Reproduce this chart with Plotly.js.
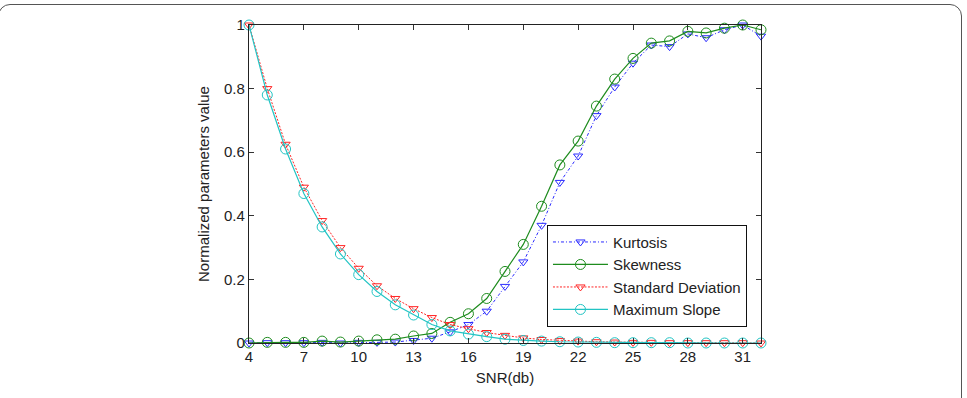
<!DOCTYPE html>
<html>
<head>
<meta charset="utf-8">
<script src="https://cdn.plot.ly/plotly-3.0.1.min.js"></script>
<style>
  html, body { margin: 0; padding: 0; background: #fff; overflow: hidden; }
  #wrap { position: relative; width: 967px; height: 398px; overflow: hidden; }
  #frame {
    position: absolute; left: -2px; top: 4px; width: 964px; height: 430px;
    border: 1.5px solid #555; border-radius: 12px; box-sizing: border-box;
    pointer-events: none;
  }
  #chart { position: absolute; left: 0; top: 0; width: 967px; height: 398px; }
</style>
</head>
<body>
<div id="wrap">
  <div id="chart"></div>
  <div id="frame"></div>
</div>
<script>
// SNR values (dB)
const snr = [4,5,6,7,8,9,10,11,12,13,14,15,16,17,18,19,20,21,22,23,24,25,26,27,28,29,30,31,32];

// Normalized parameter values per SNR
const kurtosis = [0,0.001,0.001,0.001,0.002,0,0.002,0.002,0.003,0.008,0.015,0.035,0.058,0.1,0.178,0.255,0.37,0.505,0.588,0.715,0.805,0.88,0.937,0.932,0.972,0.96,0.985,1.0,0.965];
const skewness = [0,0.002,0.002,0.002,0.006,0.003,0.006,0.01,0.012,0.022,0.03,0.065,0.092,0.14,0.225,0.31,0.43,0.56,0.635,0.745,0.83,0.895,0.943,0.95,0.98,0.975,0.99,1.0,0.985];
const stdDev   = [1,0.8,0.625,0.49,0.385,0.3,0.235,0.18,0.14,0.108,0.08,0.058,0.045,0.033,0.024,0.016,0.011,0.008,0.006,0.004,0.003,0.002,0.002,0.001,0.001,0.001,0.001,0.001,0];
const maxSlope = [1,0.78,0.61,0.47,0.365,0.28,0.215,0.162,0.12,0.088,0.058,0.038,0.028,0.02,0.012,0.008,0.006,0.004,0.003,0.002,0.001,0.001,0.001,0.001,0,0,0,0,0];

const xTicks = [4,7,10,13,16,19,22,25,28,31];
const yTicks = [0,0.2,0.4,0.6,0.8,1];
const yTickText = ['0','0.2','0.4','0.6','0.8','1'];

const series = [
  {name: 'Kurtosis', y: kurtosis, color: '#2a2aff', dash: '3px,2px,1px,2px', symbol: 'triangle-down-open', size: 8, width: 1},
  {name: 'Skewness', y: skewness, color: '#1e8c1e', dash: 'solid', symbol: 'circle-open', size: 10, width: 1.2},
  {name: 'Standard Deviation', y: stdDev, color: '#ff2424', dash: '2px,1.5px', symbol: 'triangle-down-open', size: 8, width: 1},
  {name: 'Maximum Slope', y: maxSlope, color: '#22c4c4', dash: 'solid', symbol: 'circle-open', size: 10, width: 1.2}
];

const traces = series.map(s => ({
  type: 'scatter', mode: 'lines+markers', name: s.name,
  x: snr, y: s.y,
  line: {color: s.color, dash: s.dash, width: s.width},
  marker: {symbol: s.symbol, size: s.size, color: s.color, line: {color: s.color, width: 1}},
  cliponaxis: false
}));

const font = {family: 'Liberation Sans, Arial, sans-serif', color: '#222'};

const layout = {
  width: 967, height: 398,
  margin: {l: 249, r: 206, t: 25, b: 55},
  paper_bgcolor: 'rgba(0,0,0,0)', plot_bgcolor: '#fff',
  font: Object.assign({size: 15}, font),
  showlegend: true,
  legend: {
    x: 0.582, y: 0.372, xanchor: 'left', yanchor: 'top',
    bgcolor: '#fff', bordercolor: '#111', borderwidth: 1,
    font: Object.assign({size: 15}, font),
    tracegroupgap: 0, itemwidth: 55
  },
  xaxis: {
    range: [4, 32], tickvals: xTicks, ticktext: xTicks.map(String),
    ticks: 'inside', ticklen: 5, tickcolor: '#333', tickwidth: 1,
    showline: true, linecolor: '#222', linewidth: 1.2, mirror: 'ticks',
    showgrid: false, zeroline: false,
    tickfont: Object.assign({size: 15}, font),
    title: {text: 'SNR(db)', font: Object.assign({size: 15}, font), standoff: 8}
  },
  yaxis: {
    range: [0, 1], tickvals: yTicks, ticktext: yTickText,
    ticks: 'inside', ticklen: 5, tickcolor: '#333', tickwidth: 1,
    showline: true, linecolor: '#222', linewidth: 1.2, mirror: 'ticks',
    showgrid: false, zeroline: false,
    tickfont: Object.assign({size: 15}, font),
    title: {text: 'Normalized parameters value', font: Object.assign({size: 15}, font), standoff: 10}
  }
};

Plotly.newPlot('chart', traces, layout, {displayModeBar: false, staticPlot: true});
</script>
</body>
</html>
